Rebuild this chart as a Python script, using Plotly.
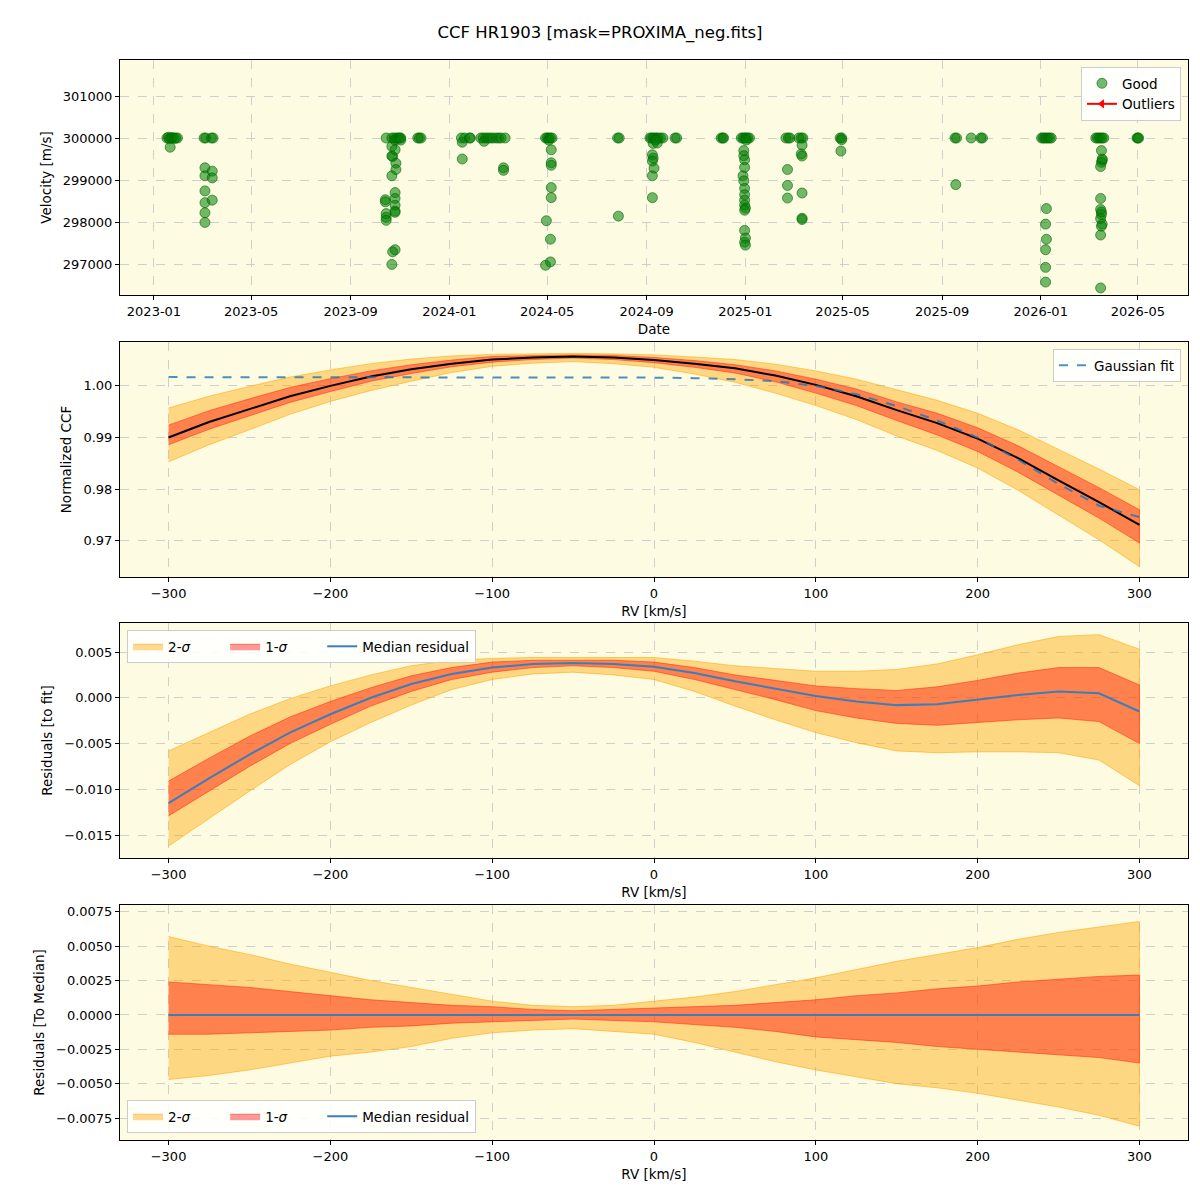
import plotly.graph_objects as go

# ---------------- Data: top panel (RV time series) ----------------
obs_date = [
    "2023-01-17", "2023-01-19", "2023-01-20", "2023-01-21", "2023-01-22", "2023-01-24", "2023-01-26", "2023-01-28", "2023-01-30",
    "2023-03-04", "2023-03-06", "2023-03-05", "2023-03-05", "2023-03-05", "2023-03-05", "2023-03-05", "2023-03-05",
    "2023-03-13", "2023-03-15", "2023-03-14", "2023-03-14", "2023-03-14",
    "2023-10-15", "2023-10-14", "2023-10-14", "2023-10-15", "2023-10-15", "2023-10-15",
    "2023-10-22", "2023-10-22", "2023-10-22", "2023-10-23", "2023-10-22", "2023-10-23", "2023-10-22",
    "2023-10-25", "2023-10-26", "2023-10-26", "2023-10-27", "2023-10-27", "2023-10-26", "2023-10-26", "2023-10-26", "2023-10-26", "2023-10-26", "2023-10-26",
    "2023-10-28", "2023-10-30", "2023-11-01", "2023-11-02", "2023-11-02",
    "2023-11-23", "2023-11-25", "2023-11-27",
    "2024-01-16", "2024-01-17", "2024-01-17", "2024-01-20", "2024-01-26", "2024-01-27",
    "2024-02-09", "2024-02-12", "2024-02-13", "2024-02-15", "2024-02-18", "2024-02-21", "2024-02-24", "2024-02-28", "2024-03-02", "2024-03-05", "2024-03-08", "2024-03-08", "2024-03-10",
    "2024-04-29", "2024-04-30", "2024-04-29", "2024-05-01", "2024-05-03", "2024-05-03", "2024-05-05", "2024-05-06", "2024-05-06", "2024-05-06", "2024-05-06", "2024-05-06", "2024-05-05", "2024-05-05", "2024-05-07",
    "2024-07-27", "2024-07-28", "2024-07-29",
    "2024-09-05", "2024-09-07", "2024-09-09", "2024-09-11", "2024-09-13", "2024-09-15", "2024-09-18", "2024-09-21",
    "2024-09-09", "2024-09-08", "2024-09-09", "2024-09-08", "2024-09-10", "2024-09-08", "2024-09-08", "2024-09-14", "2024-09-12",
    "2024-10-06", "2024-10-08",
    "2024-12-02", "2024-12-04", "2024-12-05",
    "2024-12-27", "2024-12-29", "2024-12-31", "2025-01-02", "2025-01-04", "2025-01-06",
    "2024-12-29", "2024-12-30", "2024-12-30", "2024-12-31", "2024-12-31", "2024-12-30", "2024-12-31", "2024-12-31", "2024-12-31", "2024-12-31", "2025-01-01", "2024-12-31", "2024-12-31", "2025-01-01", "2024-12-31", "2025-01-01", "2025-01-02",
    "2025-02-20", "2025-02-23", "2025-02-25", "2025-02-22", "2025-02-22", "2025-02-22",
    "2025-03-08", "2025-03-11", "2025-03-13", "2025-03-12", "2025-03-11", "2025-03-12", "2025-03-12", "2025-03-12", "2025-03-12",
    "2025-04-28", "2025-04-30", "2025-04-30", "2025-04-29",
    "2025-09-17", "2025-09-18", "2025-09-19",
    "2025-10-07", "2025-10-19", "2025-10-21",
    "2026-01-02", "2026-01-04", "2026-01-06", "2026-01-08", "2026-01-10", "2026-01-12", "2026-01-14",
    "2026-01-08", "2026-01-07", "2026-01-08", "2026-01-07", "2026-01-07", "2026-01-07",
    "2026-03-10", "2026-03-12", "2026-03-14", "2026-03-16", "2026-03-18", "2026-03-20",
    "2026-03-17", "2026-03-18", "2026-03-17", "2026-03-16", "2026-03-16", "2026-03-16", "2026-03-17", "2026-03-16", "2026-03-18", "2026-03-17", "2026-03-16", "2026-03-16", "2026-03-18", "2026-03-17",
    "2026-04-30", "2026-05-01", "2026-05-02",
]
obs_rv = [
    300000, 300020, 299980, 299780, 300000, 300010, 299990, 300000, 300000,
    300000, 300000, 299290, 299100, 298740, 298460, 298220, 297990,
    300000, 300000, 299210, 299050, 298520,
    300000, 298530, 298480, 298200, 298110, 298040,
    300000, 299800, 299570, 299560, 299100, 297290, 296990,
    300000, 299950, 299720, 299400, 299250, 298700, 298560, 298400, 298260, 298230, 297340,
    300000, 300000, 300000, 299950, 300000,
    300000, 300000, 300000,
    300000, 299900, 299500, 300000, 300000, 300000,
    300000, 300000, 299920, 300000, 300000, 300000, 300000, 300000, 300000, 300000, 299290, 299230, 300000,
    300000, 298030, 296970, 300000, 300000, 299950, 300000, 299720, 299410, 299350, 298820, 298580, 297590, 297050, 300000,
    300000, 298140, 300000,
    300000, 300000, 300000, 300000, 300000, 300000, 300000, 300000,
    299870, 299600, 299520, 299450, 299280, 299100, 298580, 299880, 299950,
    300000, 300000,
    300000, 300000, 300000,
    300000, 300000, 300000, 300000, 300000, 300000,
    299100, 299700, 299580, 299480, 299300, 298980, 298800, 298650, 298520, 298400, 298330, 298280, 297800, 297620, 297520, 297450, 299950,
    300000, 300000, 300000, 299250, 298870, 298570,
    300000, 300000, 300000, 299830, 299620, 299570, 298690, 298090, 298060,
    300000, 300000, 299960, 299690,
    300000, 298890, 300000,
    300000, 300000, 300000,
    300000, 300000, 300000, 300000, 300000, 300000, 300000,
    298320, 297950, 297590, 297340, 296920, 296570,
    300000, 300000, 300000, 300000, 300000, 300000,
    299700, 299470, 299420, 299320, 298560, 298300, 298180, 298080, 297950, 297900, 297690, 296430, 299500, 298240,
    300000, 300000, 300000,
]

# ---------------- Data: CCF profiles ----------------
rv_kms = [-300, -275, -250, -225, -200, -175, -150, -125, -100, -75, -50, -25, 0,
          25, 50, 75, 100, 125, 150, 175, 200, 225, 250, 275, 300]
ccf_median = [0.9900, 0.9930, 0.9955, 0.9980, 1.0000, 1.0018, 1.0032, 1.0043, 1.0051, 1.0055, 1.0057, 1.0055, 1.0050,
              1.0043, 1.0034, 1.0020, 1.0002, 0.9980, 0.9953, 0.9928, 0.9898, 0.9860, 0.9817, 0.9775, 0.9731]
gauss_fit = [1.0017, 1.0017, 1.0017, 1.0017, 1.0017, 1.0017, 1.0017, 1.0017, 1.0017, 1.0017, 1.0017, 1.0017, 1.0016,
             1.0015, 1.0013, 1.0009, 1.0000, 0.9984, 0.9961, 0.9933, 0.9900, 0.9857, 0.9810, 0.9768, 0.9746]
resid_median = [-0.0115, -0.0088, -0.0062, -0.0038, -0.0018, 0.0000, 0.0015, 0.0026, 0.0033, 0.0037, 0.0038, 0.0037, 0.0034,
                0.0027, 0.0018, 0.0010, 0.0002, -0.0004, -0.0008, -0.0007, -0.0002, 0.0003, 0.0007, 0.0005, -0.0015]
# offsets of percentile envelopes relative to the median
sig2_up = [0.0057, 0.0050, 0.0044, 0.0037, 0.0031, 0.0025, 0.0020, 0.0015, 0.0010, 0.0007, 0.0006, 0.0007, 0.0010,
           0.0013, 0.0017, 0.0022, 0.0027, 0.0033, 0.0039, 0.0044, 0.0049, 0.0055, 0.0060, 0.0064, 0.0068]
sig1_up = [0.0024, 0.0022, 0.0020, 0.0017, 0.0014, 0.0011, 0.0009, 0.0007, 0.0006, 0.0004, 0.0003, 0.0004, 0.0005,
           0.0006, 0.0007, 0.0009, 0.0011, 0.0014, 0.0016, 0.0019, 0.0021, 0.0024, 0.0026, 0.0028, 0.0029]
sig1_lo = [-0.0014, -0.0014, -0.0013, -0.0012, -0.0011, -0.0009, -0.0008, -0.0006, -0.0005, -0.0004, -0.0003, -0.0004, -0.0005,
           -0.0007, -0.0009, -0.0012, -0.0016, -0.0018, -0.0020, -0.0023, -0.0025, -0.0027, -0.0029, -0.0031, -0.0035]
sig2_lo = [-0.0047, -0.0044, -0.0040, -0.0035, -0.0030, -0.0027, -0.0023, -0.0017, -0.0013, -0.0011, -0.0010, -0.0012, -0.0014,
           -0.0020, -0.0027, -0.0034, -0.0040, -0.0045, -0.0050, -0.0053, -0.0057, -0.0062, -0.0067, -0.0073, -0.0081]

# ---------------- Styling ----------------
FONT = "DejaVu Sans"
BG = "#FDFBE2"
C2 = "rgba(255,165,0,0.42)"
C2L = "rgba(255,165,0,0.55)"
C1 = "rgba(255,0,0,0.40)"
C1L = "rgba(255,40,20,0.55)"
BLUE = "#3a7fb8"
PAD = "\u00a0" * 7

fig = go.Figure()


def band(center, lo, hi, color, line, name, legend, show):
    lo_v = [c + d for c, d in zip(center, lo)]
    hi_v = [c + d for c, d in zip(center, hi)]
    xs = rv_kms + rv_kms[::-1]
    ys = hi_v + lo_v[::-1]
    return go.Scatter(x=xs, y=ys, fill="toself", fillcolor=color, mode="lines",
                      line=dict(color=line, width=1), name=name, legend=legend,
                      showlegend=show, hoverinfo="skip")


# Panel 1
fig.add_trace(go.Scatter(x=obs_date, y=obs_rv, mode="markers", name="Good",
                         marker=dict(color="rgba(0,128,0,0.55)", size=10,
                                     line=dict(width=1, color="rgba(0,100,0,0.6)")),
                         xaxis="x", yaxis="y", legend="legend"))
fig.add_trace(go.Scatter(x=[None], y=[None], mode="lines+markers", name="Outliers",
                         line=dict(color="red", width=2),
                         marker=dict(symbol="triangle-left", color="red", size=8),
                         xaxis="x", yaxis="y", legend="legend"))

# Panel 2
zeros = [0.0] * len(rv_kms)
for tr in [band(ccf_median, sig2_lo, sig2_up, C2, C2L, "2-σ", "legend2", False),
           band(ccf_median, sig1_lo, sig1_up, C1, C1L, "1-σ", "legend2", False)]:
    tr.update(xaxis="x2", yaxis="y2")
    fig.add_trace(tr)
fig.add_trace(go.Scatter(x=rv_kms, y=ccf_median, mode="lines", line=dict(color="black", width=2),
                         showlegend=False, xaxis="x2", yaxis="y2"))
fig.add_trace(go.Scatter(x=rv_kms, y=gauss_fit, mode="lines", name="Gaussian fit",
                         line=dict(color="rgba(31,119,180,0.8)", width=2, dash="dash"),
                         xaxis="x2", yaxis="y2", legend="legend2"))

# Panel 3
for tr in [band(resid_median, sig2_lo, sig2_up, C2, C2L, "2-<i>σ</i>" + PAD, "legend3", True),
           band(resid_median, sig1_lo, sig1_up, C1, C1L, "1-<i>σ</i>" + PAD, "legend3", True)]:
    tr.update(xaxis="x3", yaxis="y3")
    fig.add_trace(tr)
fig.add_trace(go.Scatter(x=rv_kms, y=resid_median, mode="lines", name="Median residual",
                         line=dict(color=BLUE, width=2), xaxis="x3", yaxis="y3", legend="legend3"))

# Panel 4
for tr in [band(zeros, sig2_lo, sig2_up, C2, C2L, "2-<i>σ</i>" + PAD, "legend4", True),
           band(zeros, sig1_lo, sig1_up, C1, C1L, "1-<i>σ</i>" + PAD, "legend4", True)]:
    tr.update(xaxis="x4", yaxis="y4")
    fig.add_trace(tr)
fig.add_trace(go.Scatter(x=rv_kms, y=zeros, mode="lines", name="Median residual",
                         line=dict(color=BLUE, width=2), xaxis="x4", yaxis="y4", legend="legend4"))

# ---------------- Layout ----------------
tickfont = dict(family=FONT, size=13, color="black")
titlefont = dict(family=FONT, size=13.5, color="black")


def ax(**kw):
    d = dict(showline=True, linecolor="black", linewidth=1, mirror=True,
             ticks="outside", ticklen=4, tickcolor="black", tickfont=tickfont,
             showgrid=True, gridcolor="#cfcfcf", griddash="dash", gridwidth=1,
             zeroline=False)
    d.update(kw)
    return d


doms = [[0.7824, 1.0], [0.5213, 0.7389], [0.2611, 0.4787], [0.0, 0.2176]]

legend_common = dict(bgcolor="rgba(255,255,255,0.85)", bordercolor="#cccccc", borderwidth=1,
                     font=dict(family=FONT, size=13.5, color="black"))

fig.update_layout(
    width=1200, height=1200, autosize=False,
    margin=dict(l=120, r=12, t=60, b=60),
    paper_bgcolor="white", plot_bgcolor=BG,
    font=dict(family=FONT, size=13, color="black"),
    title=dict(text="CCF HR1903 [mask=PROXIMA_neg.fits]", x=0.5, xref="container",
               y=1 - 32 / 1200, yref="container", xanchor="center", yanchor="middle",
               font=dict(family=FONT, size=16.5, color="black")),
    xaxis=ax(domain=[0, 1], anchor="y", type="date", range=["2022-11-20", "2026-07-02"],
             tick0="2023-01-01", dtick="M4", tickformat="%Y-%m",
             title=dict(text="Date", font=titlefont, standoff=6)),
    yaxis=ax(domain=doms[0], anchor="x", range=[296262, 301857], tickvals=[297000, 298000, 299000, 300000, 301000],
             tickformat="d", title=dict(text="Velocity [m/s]", font=titlefont, standoff=8)),
    xaxis2=ax(domain=[0, 1], anchor="y2", range=[-330, 330], tickvals=[-300, -200, -100, 0, 100, 200, 300],
              title=dict(text="RV [km/s]", font=titlefont, standoff=6)),
    yaxis2=ax(domain=doms[1], anchor="x2", range=[0.9630, 1.0085], tickvals=[0.97, 0.98, 0.99, 1.00],
              tickformat=".2f", title=dict(text="Normalized CCF", font=titlefont, standoff=8)),
    xaxis3=ax(domain=[0, 1], anchor="y3", range=[-330, 330], tickvals=[-300, -200, -100, 0, 100, 200, 300],
              title=dict(text="RV [km/s]", font=titlefont, standoff=6)),
    yaxis3=ax(domain=doms[2], anchor="x3", range=[-0.0175, 0.00817],
              tickvals=[-0.015, -0.010, -0.005, 0.0, 0.005], tickformat=".3f",
              title=dict(text="Residuals [to fit]", font=titlefont, standoff=8)),
    xaxis4=ax(domain=[0, 1], anchor="y4", range=[-330, 330], tickvals=[-300, -200, -100, 0, 100, 200, 300],
              title=dict(text="RV [km/s]", font=titlefont, standoff=6)),
    yaxis4=ax(domain=doms[3], anchor="x4", range=[-0.0091, 0.0080],
              tickvals=[-0.0075, -0.005, -0.0025, 0.0, 0.0025, 0.005, 0.0075], tickformat=".4f",
              title=dict(text="Residuals [To Median]", font=titlefont, standoff=8)),
    legend=dict(x=0.9934, y=0.9935, xanchor="right", yanchor="top", **legend_common),
    legend2=dict(x=0.9934, y=0.7324, xanchor="right", yanchor="top", **legend_common),
    legend3=dict(x=0.0066, y=0.4722, xanchor="left", yanchor="top", orientation="h", **legend_common),
    legend4=dict(x=0.0066, y=0.0065, xanchor="left", yanchor="bottom", orientation="h", **legend_common),
)

fig.write_html("out.html")
